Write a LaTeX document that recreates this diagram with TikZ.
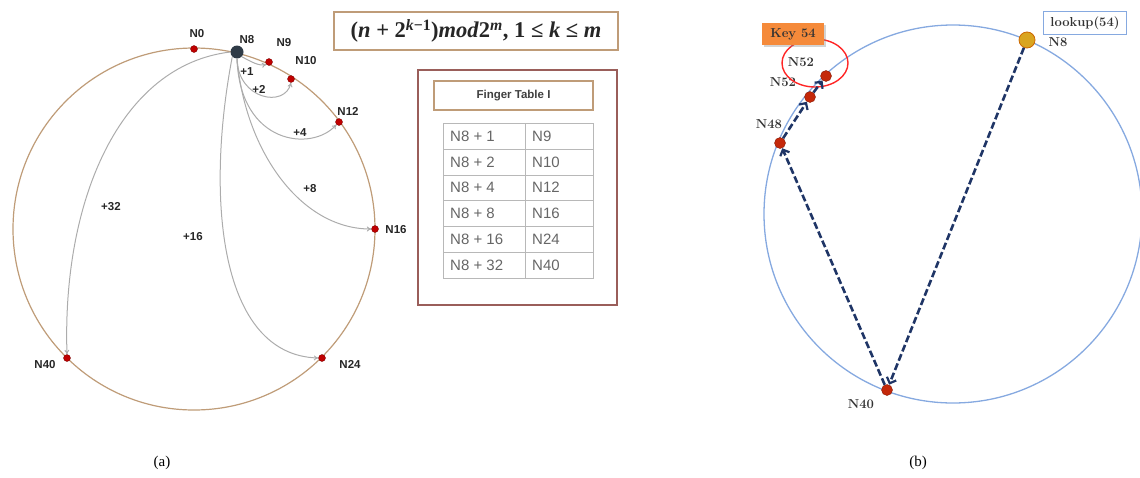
\documentclass[tikz,border=0pt]{standalone}
\usepackage{fontspec}
\usetikzlibrary{arrows.meta,shapes.geometric,shadows}
\newfontfamily\arialf{Liberation Sans}
\newfontfamily\timesf{Liberation Serif}
\definecolor{ringtan}{HTML}{BF9C78}
\definecolor{dotred}{HTML}{C00000}
\definecolor{hubdark}{HTML}{2F3B47}
\definecolor{boxred}{HTML}{9A5E5A}
\definecolor{ringblue}{HTML}{86A9E0}
\definecolor{navy}{HTML}{1F3566}
\definecolor{bdot}{HTML}{C4280A}
\definecolor{gold}{HTML}{D9A520}
\definecolor{keyorange}{HTML}{F58A3A}
\definecolor{gridgray}{HTML}{B8B8B8}
\tikzset{
  reddot/.style={circle,fill=dotred,draw=dotred!60!black,line width=0.3pt,inner sep=0pt,minimum size=7pt},
  hubdot/.style={circle,fill=hubdark,inner sep=0pt,minimum size=13pt},
  lbl/.style={font=\arialf\bfseries\fontsize{11.5}{13}\selectfont,text=black!85,inner sep=1pt},
  farrow/.style={draw=gray!65,line width=1pt,-{To[length=4.5pt,width=5pt]}},
  cell/.style={font=\arialf\fontsize{15}{17}\selectfont,text=black!60,anchor=west,inner sep=0pt},
  bdotst/.style={circle,fill=bdot,draw=bdot!70!black,line width=0.4pt,inner sep=0pt,minimum size=11pt},
  rlbl/.style={font=\bfseries\fontsize{13}{15}\selectfont,text=black!80,inner sep=1pt},
  darrow/.style={draw=navy,line width=2.6pt,dash pattern=on 7pt off 3pt,-{Straight Barb[length=5pt,width=10pt,line width=2.2pt]}},
  captxt/.style={font=\timesf\fontsize{15}{17}\selectfont,inner sep=0pt},
  formbox/.style={draw=ringtan,line width=1.2pt,minimum width=284pt,minimum height=38pt,inner sep=0pt,font=\timesf\bfseries\fontsize{22.5}{25}\selectfont,text=black!85}
}
\begin{document}
\begin{tikzpicture}[x=1pt,y=-1pt]
\useasboundingbox (0,0) rectangle (1140,477);
% ---------- (a) ----------
\draw[ringtan,line width=1.2pt] (194,229) circle[radius=181pt];
\node[reddot] (n0) at (194,49) {};
\node[reddot] (n9) at (269,62) {};
\node[reddot] (n10) at (291,79) {};
\node[reddot] (n12) at (339,122) {};
\node[reddot] (n16) at (375,229) {};
\node[reddot] (n24) at (322,358) {};
\node[reddot] (n40) at (67,358) {};
\node[hubdot] (n8) at (237,52) {};
\node[lbl] (l0) at (197,34) {N0};
\node[lbl] (l8) at (247,40) {N8};
\node[lbl] (l9) at (284,43) {N9};
\node[lbl] (l10) at (306,61) {N10};
\node[lbl] (l12) at (348,111) {N12};
\node[lbl] (l16) at (396,230) {N16};
\node[lbl] (l24) at (350,364) {N24};
\node[lbl] (l40) at (45,365) {N40};
% finger arrows
\draw[farrow] (n8.south east) .. controls (252,62) and (258,66) .. (n9.south west);
\draw[farrow] (n8.south) .. controls (238,100) and (285,108) .. (n10.south);
\draw[farrow] (n8.south) .. controls (240,145) and (312,152) .. (n12.south west);
\draw[farrow] (n8.south) .. controls (245,150) and (300,229) .. (n16.west);
\draw[farrow] (n8.south west) .. controls (205,200) and (220,355) .. (n24.west);
\draw[farrow] (n8.west) .. controls (120,65) and (62,200) .. (n40.north);
\node[lbl] (p1) at (247,72) {+1};
\node[lbl] (p2) at (259,89) {+2};
\node[lbl] (p4) at (300,133) {+4};
\node[lbl] (p8) at (310,189) {+8};
\node[lbl] (p16) at (193,237) {+16};
\node[lbl] (p32) at (111,207) {+32};
% formula box
\node[formbox] (formula) at (476,31) {(\textit{n} + 2\textsuperscript{\textit{k}−1})\textit{mod}2\textsuperscript{\textit{m}}, 1 ≤ \textit{k} ≤ \textit{m}};
% finger table
\node[draw=boxred,line width=1.2pt,minimum width=199pt,minimum height=235pt,inner sep=0pt] (ftbox) at (517.5,187.5) {};
\node[draw=ringtan,line width=1.2pt,minimum width=159pt,minimum height=29pt,inner sep=0pt,font=\arialf\bfseries\fontsize{11.5}{13}\selectfont,text=black!75] (fttitle) at (513.5,95.5) {Finger Table I};
\draw[gridgray,line width=0.8pt] (443,123) rectangle (593,278);
\foreach \yy in {149,175,200,226,252} {\draw[gridgray,line width=0.8pt] (443,\yy) -- (593,\yy);}
\draw[gridgray,line width=0.8pt] (525,123) -- (525,278);
\node[cell] (a1) at (450,136) {N8 + 1};
\node[cell] (a2) at (450,162) {N8 + 2};
\node[cell] (a3) at (450,187.5) {N8 + 4};
\node[cell] (a4) at (450,213) {N8 + 8};
\node[cell] (a5) at (450,239) {N8 + 16};
\node[cell] (a6) at (450,265) {N8 + 32};
\node[cell] (b1) at (532,136) {N9};
\node[cell] (b2) at (532,162) {N10};
\node[cell] (b3) at (532,187.5) {N12};
\node[cell] (b4) at (532,213) {N16};
\node[cell] (b5) at (532,239) {N24};
\node[cell] (b6) at (532,265) {N40};
% ---------- (b) ----------
\begin{scope}
\clip (740,0) rectangle (1140,477);
\draw[ringblue,line width=1.3pt] (953,214) circle[radius=189pt];
\end{scope}
\node[bdotst] (m40) at (887,390) {};
\node[bdotst] (m48) at (780,143) {};
\node[bdotst] (m51) at (810,97) {};
\node[bdotst] (m52) at (826,76) {};
\node[circle,fill=gold,draw=orange!80!black,line width=0.8pt,inner sep=0pt,minimum size=16pt] (m8) at (1027,40) {};
\node[rlbl] (r8) at (1058,42) {N8};
\node[rlbl] (r40) at (861,404) {N40};
\node[rlbl] (r48) at (769,124) {N48};
\node[rlbl] (r51) at (783,82) {N52};
\node[rlbl] (r52) at (801,62) {N52};
\draw[red!85!white,line width=1.4pt] (815,63) ellipse[x radius=33pt,y radius=24pt];
\node[draw=ringblue,line width=1.2pt,fill=white,minimum width=83pt,minimum height=23pt,inner sep=0pt,font=\bfseries\fontsize{13}{15}\selectfont,text=black!80] (lookup) at (1085,23) {lookup(54)};
\node[fill=keyorange,minimum width=62pt,minimum height=22pt,inner sep=0pt,drop shadow={opacity=0.35,shadow xshift=2pt,shadow yshift=-2pt},font=\bfseries\fontsize{13}{15}\selectfont,text=black!80] (key) at (793,34) {Key 54};
\draw[darrow] (m8) -- (m40);
\draw[darrow] (m40) -- (m48);
\draw[darrow] (m48) -- (m51);
\draw[darrow] (m51) -- (m52);
% captions
\node[captxt] (capa) at (162,463) {(a)};
\node[captxt] (capb) at (918,463) {(b)};
\end{tikzpicture}
\end{document}
